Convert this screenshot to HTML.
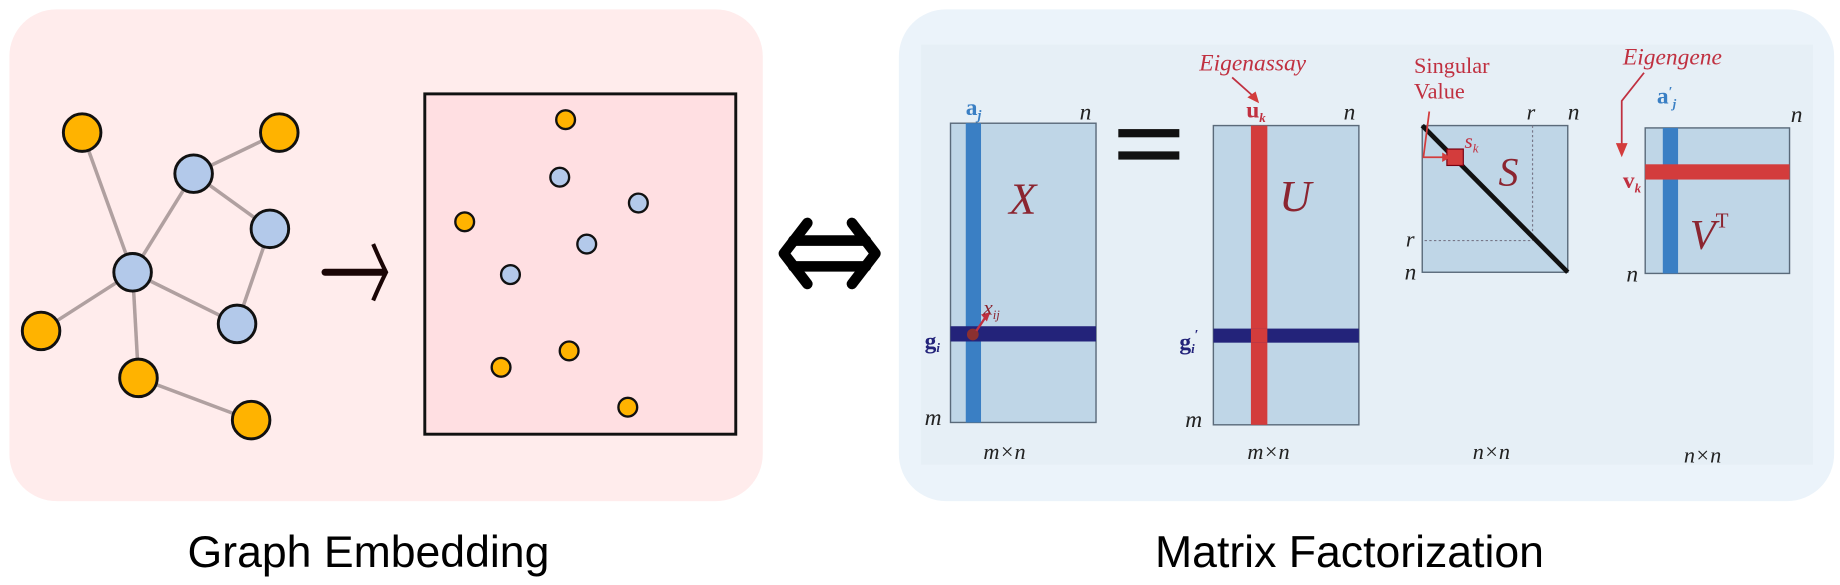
<!DOCTYPE html>
<html><head><meta charset="utf-8"><style>html,body{margin:0;padding:0;background:#fff}svg{display:block}</style></head>
<body>
<svg width="1840" height="585" viewBox="0 0 1568 498.5" preserveAspectRatio="none" xmlns="http://www.w3.org/2000/svg">
<rect x="0" y="0" width="1568" height="498.5" fill="#fff"/>
<rect x="8" y="8" width="642" height="419" rx="40" fill="#ffecec"/>
<rect x="766" y="8" width="797" height="419" rx="40" fill="#ebf3fa"/>
<rect x="785" y="38" width="760" height="358" fill="#e6eff6"/>
<g stroke="#b0a0a0" stroke-width="3">
<line x1="70" y1="113" x2="113" y2="232"/><line x1="165" y1="148" x2="238" y2="113"/>
<line x1="165" y1="148" x2="230" y2="195"/><line x1="113" y1="232" x2="165" y2="148"/>
<line x1="230" y1="195" x2="202" y2="276"/><line x1="113" y1="232" x2="202" y2="276"/>
<line x1="113" y1="232" x2="35" y2="282"/><line x1="113" y1="232" x2="118" y2="322"/>
<line x1="118" y1="322" x2="214" y2="358"/></g>
<g stroke="#111" stroke-width="2.5">
<g fill="#ffb300"><circle cx="70" cy="113" r="16"/><circle cx="238" cy="113" r="16"/><circle cx="35" cy="282" r="16"/><circle cx="118" cy="322" r="16"/><circle cx="214" cy="358" r="16"/></g>
<g fill="#b3c9ea"><circle cx="165" cy="148" r="16"/><circle cx="230" cy="195" r="16"/><circle cx="113" cy="232" r="16"/><circle cx="202" cy="276" r="16"/></g>
</g>
<line x1="277" y1="232" x2="326" y2="232" stroke="#1a0505" stroke-width="6" stroke-linecap="round"/>
<path d="M318 208 Q324 222 329 232 Q324 242 318 256" fill="none" stroke="#1a0505" stroke-width="3.5"/>
<rect x="362" y="80" width="265" height="290" fill="#ffdfe2" stroke="#111" stroke-width="2.5"/>
<g stroke="#111" stroke-width="2">
<g fill="#ffb300"><circle cx="482" cy="102" r="8"/><circle cx="396" cy="189" r="8"/><circle cx="485" cy="299" r="8"/><circle cx="427" cy="313" r="8"/><circle cx="535" cy="347" r="8"/></g>
<g fill="#b3c9ea"><circle cx="477" cy="151" r="8"/><circle cx="544" cy="173" r="8"/><circle cx="500" cy="208" r="8"/><circle cx="435" cy="234" r="8"/></g>
</g>
<g fill="none" stroke="#000" stroke-width="9" stroke-linecap="round" stroke-linejoin="round">
<path d="M688 190 L668 216 L688 242"/><path d="M726 190 L746 216 L726 242"/>
<line x1="676" y1="205" x2="738" y2="205"/><line x1="676" y1="227" x2="738" y2="227"/>
</g>
<g stroke="#5a6a7a" stroke-width="1.2">
<rect x="810" y="105" width="124" height="255" fill="#bfd6e7"/>
<rect x="1034" y="107" width="124" height="255" fill="#bfd6e7"/>
<rect x="1212" y="107" width="124" height="125" fill="#bfd6e7"/>
<rect x="1402" y="109" width="123" height="124" fill="#bfd6e7"/>
</g>
<rect x="823" y="105" width="13" height="255" fill="#3a7fc4"/>
<rect x="810" y="278" width="124" height="13" fill="#23237a"/>
<circle cx="829" cy="285" r="5" fill="#8b3030"/>
<path d="M832 282 L840 270" stroke="#c03040" stroke-width="2"/><path d="M836 268 L844 266 L841 274Z" fill="#c03040"/>
<rect x="953" y="110" width="52" height="7" fill="#111"/><rect x="953" y="129" width="52" height="7" fill="#111"/>
<rect x="1066" y="107" width="14" height="255" fill="#d33c3c"/>
<rect x="1034" y="280" width="124" height="12" fill="#23237a"/>
<rect x="1066" y="280" width="14" height="12" fill="#d33c3c"/>
<path d="M1306 107 V205 H1212" fill="none" stroke="#778" stroke-width="1" stroke-dasharray="2 2"/>
<line x1="1212" y1="107" x2="1336" y2="232" stroke="#111" stroke-width="4"/>
<rect x="1233" y="127" width="14" height="14" fill="#d33c3c" stroke="#701" stroke-width="1"/>
<path d="M1218 95 L1213 134 L1230 134" fill="none" stroke="#d33c3c" stroke-width="1.5"/><path d="M1229 130 L1236 134 L1229 138Z" fill="#d33c3c"/>
<rect x="1417" y="109" width="13" height="124" fill="#3a7fc4"/>
<rect x="1402" y="140" width="123" height="13" fill="#d33c3c"/>
<path d="M1401 62 L1382 86 L1382 124" fill="none" stroke="#c03040" stroke-width="1.5"/><path d="M1377 122 L1382 134 L1387 122Z" fill="#d33c3c"/>
<path d="M1050 66 L1068 82" stroke="#c03040" stroke-width="1.5"/><path d="M1063 83 L1073 88 L1070 78Z" fill="#d33c3c"/>
<g font-family="Liberation Serif, serif" font-style="italic">
<text x="823" y="98" font-size="20" font-weight="bold" font-style="normal" fill="#3a7fc4">a<tspan font-size="12" font-style="italic" dy="4">j</tspan></text>
<text x="920" y="102" font-size="20" fill="#222">n</text>
<text x="860" y="182" font-size="38" fill="#8b2530">X</text>
<text x="838" y="268" font-size="18" fill="#8b2530">x<tspan font-size="11" dy="4">ij</tspan></text>
<text x="788" y="297" font-size="20" font-weight="bold" font-style="normal" fill="#23237a">g<tspan font-size="11" font-style="italic" dy="3">i</tspan></text>
<text x="788" y="362" font-size="20" fill="#222">m</text>
<text x="838" y="391" font-size="19" fill="#222">m×n</text>
<text x="1022" y="60" font-size="20" fill="#c03040">Eigenassay</text>
<text x="1062" y="100" font-size="20" font-weight="bold" font-style="normal" fill="#c03040">u<tspan font-size="11" font-style="italic" dy="4">k</tspan></text>
<text x="1145" y="102" font-size="20" fill="#222">n</text>
<text x="1090" y="180" font-size="38" fill="#8b2530">U</text>
<text x="1005" y="298" font-size="20" font-weight="bold" font-style="normal" fill="#23237a">g<tspan font-size="11" font-style="italic" dy="3">i</tspan><tspan font-size="12" dy="-12">′</tspan></text>
<text x="1010" y="364" font-size="20" fill="#222">m</text>
<text x="1063" y="391" font-size="19" fill="#222">m×n</text>
<text x="1205" y="62" font-size="19" font-style="normal" fill="#c03040">Singular</text>
<text x="1205" y="84" font-size="19" font-style="normal" fill="#c03040">Value</text>
<text x="1248" y="126" font-size="18" fill="#c03040">s<tspan font-size="11" dy="4">k</tspan></text>
<text x="1277" y="158" font-size="34" fill="#8b2530">S</text>
<text x="1301" y="102" font-size="19" fill="#222">r</text>
<text x="1336" y="102" font-size="20" fill="#222">n</text>
<text x="1198" y="210" font-size="19" fill="#222">r</text>
<text x="1197" y="238" font-size="20" fill="#222">n</text>
<text x="1255" y="391" font-size="19" fill="#222">n×n</text>
<text x="1383" y="55" font-size="20" fill="#c03040">Eigengene</text>
<text x="1412" y="88" font-size="20" font-weight="bold" font-style="normal" fill="#3a7fc4">a<tspan font-size="12" dy="-6">′</tspan><tspan font-size="11" font-style="italic" dy="10">j</tspan></text>
<text x="1526" y="104" font-size="20" fill="#222">n</text>
<text x="1383" y="160" font-size="20" font-weight="bold" font-style="normal" fill="#c03040">v<tspan font-size="11" font-style="italic" dy="4">k</tspan></text>
<text x="1386" y="240" font-size="20" fill="#222">n</text>
<text x="1440" y="212" font-size="36" fill="#8b2530">V<tspan font-size="18" font-style="normal" dy="-18">T</tspan></text>
<text x="1435" y="394" font-size="19" fill="#222">n×n</text>
</g>
<g font-family="Liberation Sans, sans-serif" font-size="38" fill="#000" text-anchor="middle">
<text x="314" y="483">Graph Embedding</text>
<text x="1150" y="483">Matrix Factorization</text>
</g>
</svg>
</body></html>
